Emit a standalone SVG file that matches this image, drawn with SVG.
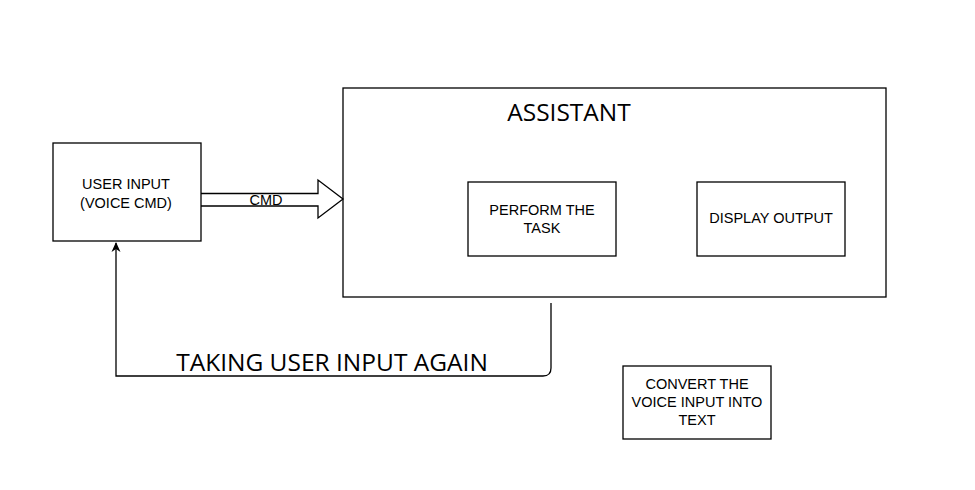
<svg xmlns="http://www.w3.org/2000/svg" width="975" height="490" viewBox="0 0 975 490">
<defs>
<style>
.box{fill:#fff;stroke:#000;stroke-width:1.3}
.t{font-family:"Liberation Sans",Arial,sans-serif;font-size:14.5px;fill:#000;text-anchor:middle}
.big{font-family:"Open Sans",sans-serif;font-size:24.5px;fill:#000;text-anchor:middle}
.ln{fill:none;stroke:#000;stroke-width:1.3}
</style>
<marker id="ah" markerWidth="12" markerHeight="12" refX="9" refY="5.5" orient="auto" markerUnits="userSpaceOnUse">
<path d="M0,1 L10,5.5 L0,10 L3,5.5 Z" fill="#000"/>
</marker>
</defs>
<rect width="975" height="490" fill="#fff"/>
<g id="assistant">
<rect class="box" x="343" y="88" width="543" height="209"/>
<text class="big" x="569" y="121">ASSISTANT</text>
</g>
<g id="user-input">
<rect class="box" x="53" y="143" width="148" height="98"/>
<text class="t" x="126" y="189">USER INPUT</text>
<text class="t" x="126" y="208">(VOICE CMD)</text>
</g>
<g id="perform-task">
<rect class="box" x="468" y="182" width="148" height="74"/>
<text class="t" x="542" y="215">PERFORM THE</text>
<text class="t" x="542" y="233">TASK</text>
</g>
<g id="display-output">
<rect class="box" x="697" y="182" width="148" height="74"/>
<text class="t" x="771" y="223">DISPLAY OUTPUT</text>
</g>
<g id="convert">
<rect class="box" x="623" y="366" width="148" height="73"/>
<text class="t" x="697" y="389">CONVERT THE</text>
<text class="t" x="697" y="407">VOICE INPUT INTO</text>
<text class="t" x="697" y="425">TEXT</text>
</g>
<g id="connectors">
<path class="ln" d="M201,193.5 H318 V180 L343,199 L318,218 V206 H201"/>
<text class="t" x="266" y="205">CMD</text>
<path class="ln" d="M551,303 V368 Q551,376 543,376 H116 V243" marker-end="url(#ah)"/>
<text class="big" x="332" y="371">TAKING USER INPUT AGAIN</text>
</g>
</svg>
